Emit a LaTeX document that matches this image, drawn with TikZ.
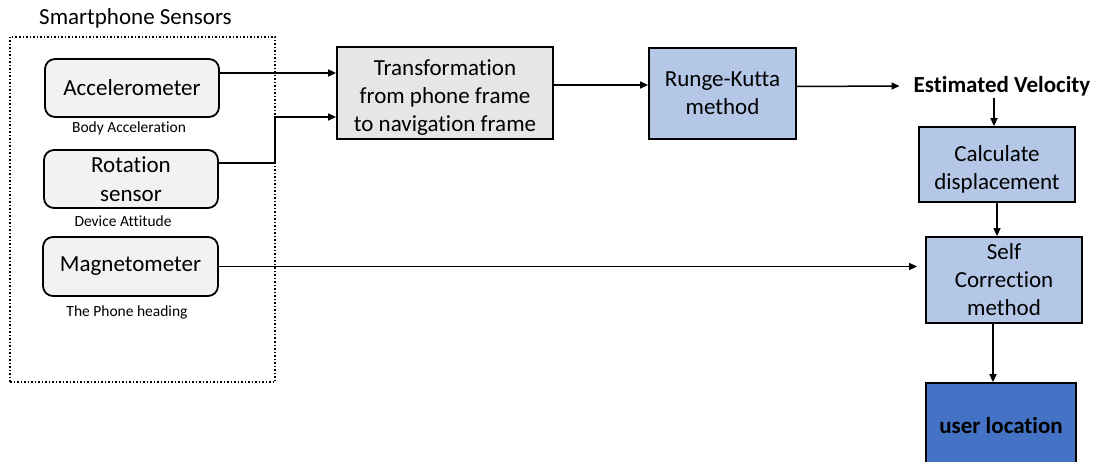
\documentclass[tikz,border=0pt]{standalone}
\usepackage{fontspec}
\setmainfont{Carlito}[Ligatures=NoCommon]
\usetikzlibrary{shapes,arrows.meta,positioning}

\definecolor{sensorfill}{HTML}{F2F2F2}
\definecolor{transfill}{HTML}{E7E6E6}
\definecolor{methodfill}{HTML}{B4C7E7}
\definecolor{userfill}{HTML}{4472C4}

\begin{document}
\begin{tikzpicture}[
    x=1pt, y=-1pt,
    sensor/.style={rectangle, rounded corners=10pt, minimum width=174pt, minimum height=58pt, text centered, align=center, draw=black, fill=sensorfill, line width=1.8pt, font=\fontsize{23}{29}\selectfont},
    caption/.style={inner sep=0pt, font=\fontsize{15.5}{18}\selectfont},
    transform/.style={rectangle, minimum width=216pt, minimum height=92pt, text centered, align=center, draw=black, fill=transfill, line width=1.8pt, font=\fontsize{23}{28}\selectfont},
    method/.style={rectangle, text centered, align=center, draw=black, fill=methodfill, line width=1.8pt, font=\fontsize{23}{28}\selectfont},
    result/.style={rectangle, text centered, draw=black, fill=userfill, line width=1.8pt, font=\fontsize{23}{28}\selectfont\bfseries},
    arrow/.style={line width=1.5pt, -{Triangle[length=8pt,width=7pt]}}
]
\useasboundingbox (0,0) rectangle (1095,462);

% Sensor group
\node[rectangle, draw=black, dotted, line width=1.5pt, minimum width=265pt, minimum height=345pt] (group) at (142.5,209.5) {};
\node[font=\fontsize{23}{28}\selectfont] (grouptitle) at (135.5,18) {Smartphone Sensors};

% Sensors
\node[sensor] (acc) at (132,88) {Accelerometer};
\node[caption] (acclabel) at (129,128) {Body Acceleration};

\node[sensor] (rot) at (131,179) {Rotation\\sensor};
\node[caption] (rotlabel) at (123,221) {Device Attitude};

\node[sensor, minimum width=175pt, minimum height=59pt] (mag) at (130.5,266.5) {Magnetometer};
\node[caption] (maglabel) at (127,312) {The Phone heading};

% Frame transformation
\node[transform] (trans) at (445,93) {\rule{0pt}{25pt}Transformation\\from phone frame\\to navigation frame};

% Integration
\node[method, minimum width=147pt, minimum height=91pt] (rk) at (722.5,93.5) {Runge-Kutta\\method};

% Velocity
\node[font=\fontsize{23}{28}\selectfont\bfseries, inner sep=2pt] (vel) at (1002,86) {Estimated Velocity};

% Displacement
\node[method, minimum width=156pt, minimum height=75pt] (disp) at (997,164.5) {\rule{0pt}{25pt}Calculate\\displacement};

% Correction
\node[method, minimum width=156pt, minimum height=86pt] (corr) at (1004,280) {Self\\Correction\\method};

% Output
\node[result, minimum width=150pt, minimum height=86pt] (user) at (1001,426) {user location};

% Arrows
\draw[arrow] ([yshift=15pt]acc.east) -- ([yshift=15pt]acc.east -| trans.west);
\draw[arrow] ([yshift=16pt]rot.east) -- ++(56,0) |- ([yshift=-24pt]trans.west);
\draw[arrow] ([yshift=8pt]trans.east) -- ([yshift=8pt]trans.east -| rk.west);
\draw[arrow] ([yshift=7pt]rk.east) -- ([xshift=-12pt]vel.west);
\draw[arrow] ([xshift=-8pt]vel.south) -- ([xshift=-8pt]vel.south |- disp.north);
\draw[arrow] (disp.south) -- (disp.south |- corr.north);
\draw[arrow, shorten >=8pt] (mag.east) -- (mag.east -| corr.west);
\draw[arrow] ([xshift=-11pt]corr.south) -- ([xshift=-11pt]corr.south |- user.north);

\end{tikzpicture}
\end{document}
